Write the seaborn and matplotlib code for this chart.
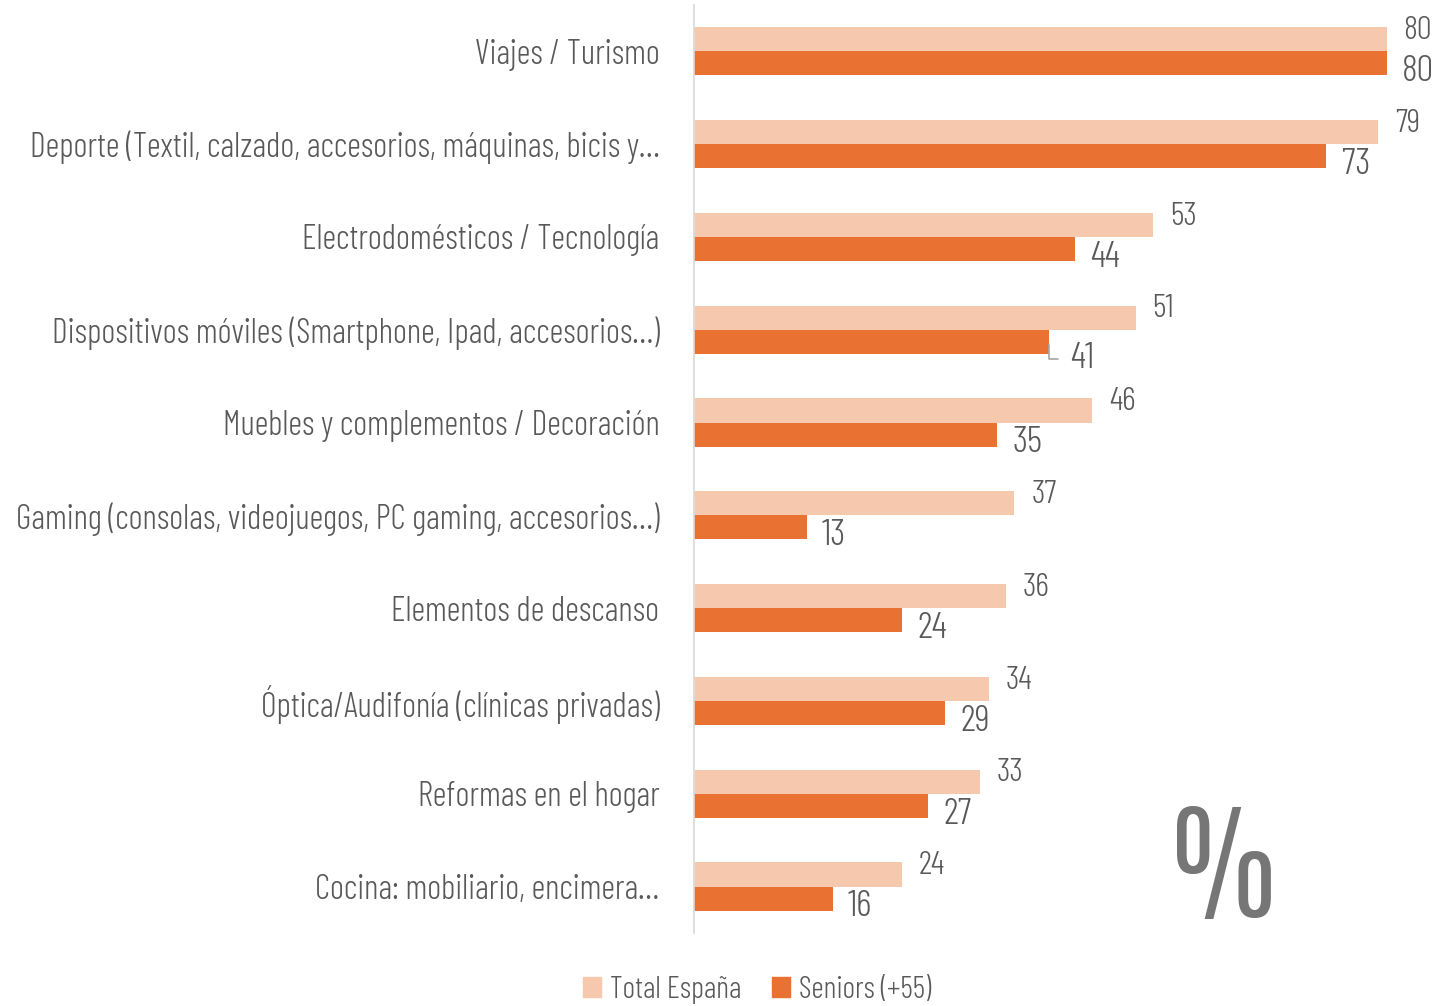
import numpy as np
import pandas as pd
import matplotlib
matplotlib.use("Agg")
import matplotlib.pyplot as plt
import seaborn as sns

# ---------------- data ----------------
categories = [
    "Viajes / Turismo",
    "Deporte (Textil, calzado, accesorios, máquinas, bicis y…",
    "Electrodomésticos / Tecnología",
    "Dispositivos móviles (Smartphone, Ipad, accesorios…)",
    "Muebles y complementos / Decoración",
    "Gaming (consolas, videojuegos, PC gaming, accesorios…)",
    "Elementos de descanso",
    "Óptica/Audifonía (clínicas privadas)",
    "Reformas en el hogar",
    "Cocina: mobiliario, encimera…",
]
total_espana = [80, 79, 53, 51, 46, 37, 36, 34, 33, 24]
seniors = [80, 73, 44, 41, 35, 13, 24, 29, 27, 16]
series_names = ["Total España", "Seniors (+55)"]

df = pd.DataFrame({
    "categoria": categories * 2,
    "valor": total_espana + seniors,
    "serie": [series_names[0]] * len(categories) + [series_names[1]] * len(categories),
})

# ---------------- style ----------------
sns.set_style("white")
plt.rcParams["font.family"] = ["Barlow Condensed", "DejaVu Sans"]
plt.rcParams["font.weight"] = 300
TXT = "#595959"
colors = ["#F6C8AE", "#E97132"]

fig = plt.figure(figsize=(14.42, 10.06), dpi=100)
ax = fig.add_axes([0.4813, 0.0726, 0.4847, 0.9225])

sns.barplot(data=df, y="categoria", x="valor", hue="serie", orient="h",
            palette=colors, saturation=1, width=0.52, linewidth=0, ax=ax, legend=True)

ax.set_xlim(0, 80.7)
ax.set_ylim(len(categories) - 0.5, -0.5)
ax.set_xlabel("")
ax.set_ylabel("")
ax.set_xticks([])
for s in ["top", "right", "bottom"]:
    ax.spines[s].set_visible(False)
ax.spines["left"].set_color("#D9D9D9")
ax.spines["left"].set_linewidth(1.2)
ax.tick_params(axis="y", length=0, pad=25, labelsize=24.5, labelcolor=TXT)

# value labels
light_c, dark_c = ax.containers[0], ax.containers[1]
for bar, v in zip(light_c, total_espana):
    ax.annotate(str(v), (bar.get_width(), bar.get_y() + bar.get_height() / 2),
                xytext=(12, 6), textcoords="offset points", ha="left", va="center",
                fontsize=24, color=TXT, annotation_clip=False)
for bar, v in zip(dark_c, seniors):
    dy = -12 if v == 41 else -6
    dx = 15 if v == 41 else 11
    ax.annotate(str(v), (bar.get_width(), bar.get_y() + bar.get_height() / 2),
                xytext=(dx, dy), textcoords="offset points",
                ha="left", va="center", fontsize=27, color=TXT, annotation_clip=False)

# leader line for 41
i41 = seniors.index(41)
b = dark_c[i41]
ax.annotate("", xy=(b.get_width(), b.get_y() + b.get_height() / 2),
            xytext=(b.get_width() + 1.4, b.get_y() + b.get_height() + 0.05),
            arrowprops=dict(arrowstyle="-", color="#A6A6A6", lw=1.2,
                            connectionstyle="angle,angleA=0,angleB=90,rad=0"),
            annotation_clip=False)

# legend
ax.legend_.remove()
handles = [plt.Rectangle((0, 0), 1, 1, color=c) for c in colors]
fig.legend(handles, series_names, loc="lower center", bbox_to_anchor=(0.525, -0.025),
           ncol=2, frameon=False, fontsize=22, labelcolor=TXT,
           handlelength=0.6, handleheight=0.6, handletextpad=0.3, columnspacing=1.0)

# big percent sign
fig.text(0.849, 0.061, "%", fontsize=110, color="#767676", ha="center", va="bottom",
         family=["Pathway Gothic One", "Antonio", "Oswald", "DejaVu Sans"], weight="normal")

fig.savefig("out.png", dpi=100)
